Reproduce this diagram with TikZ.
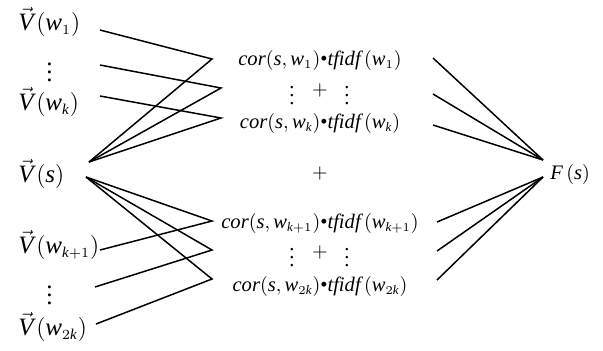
\documentclass[tikz,border=0pt]{standalone}
\usepackage{fontspec}
\setmainfont{Liberation Serif}
\usetikzlibrary{positioning}
\DeclareMathSizes{12.5}{12.5}{7.5}{6}
\DeclareMathSizes{10.3}{10.3}{6.5}{5}
\newcommand{\vecV}{\vec{\mathit{V}}\mkern2mu}
\newcommand{\wterm}[1]{$\mathit{cor}(\mathit{s},\mathit{w}_{#1})\mbox{\textbullet}\mathit{tfidf}\,(\mathit{w}_{#1})$}
\tikzset{
  vlbl/.style={anchor=west,inner sep=0pt,font=\fontsize{12.5}{14}\selectfont},
  wbox/.style={inner sep=0pt,font=\fontsize{10.3}{12}\selectfont},
  wire/.style={line width=0.75pt},
}

\begin{document}
\begin{tikzpicture}[x=0.5pt,y=-0.5pt]
\useasboundingbox (0,0) rectangle (603,350);
% left column
\node[vlbl] (vw1) at (18,22) {$\vecV(\mathit{w}_{1})$};
\node[vlbl] (vd1) at (46,66) {$\vdots$};
\node[vlbl] (vwk) at (18,102) {$\vecV(\mathit{w}_{\mathit{k}})$};
\node[vlbl] (vs) at (18,174) {$\vecV(\mathit{s})$};
\node[vlbl] (vwk1) at (18,245) {$\vecV(\mathit{w}_{\mathit{k}+1})$};
\node[vlbl] (vd2) at (46,289) {$\vdots$};
\node[vlbl] (vw2k) at (18,327) {$\vecV(\mathit{w}_{2\mathit{k}})$};
% middle column
\node[wbox] (t1) at (320,60) {\wterm{1}};
\node[wbox] (dl1) at (292,90) {$\vdots$};
\node[wbox] (p1) at (320,90) {$+$};
\node[wbox] (dr1) at (347,90) {$\vdots$};
\node[wbox] (tk) at (320,123) {\wterm{\mathit{k}}};
\node[wbox] (psum) at (320,173) {$+$};
\node[wbox] (tk1) at (320,223) {\wterm{\mathit{k}+1}};
\node[wbox] (dl2) at (292,252) {$\vdots$};
\node[wbox] (p2) at (320,252) {$+$};
\node[wbox] (dr2) at (347,252) {$\vdots$};
\node[wbox] (t2k) at (320,286) {\wterm{2\mathit{k}}};
% right
\node[wbox,anchor=west] (fs) at (550,174) {$\mathit{F}\,(\mathit{s})$};
% wire ends
\coordinate (a1) at (100,30);  \coordinate (a2) at (100,65);  \coordinate (a3) at (100,96);
\coordinate (a4) at (100,250); \coordinate (a5) at (95,287);  \coordinate (a6) at (96,324);
\coordinate (su) at (89,162);  \coordinate (sd) at (86,177);
\coordinate (j1) at (212,59);  \coordinate (j2) at (221,88);  \coordinate (j3) at (221,118);
\coordinate (j4) at (212,221); \coordinate (j5) at (212,250); \coordinate (j6) at (212,279);
\coordinate (r1) at (433,58);  \coordinate (r2) at (433,94);  \coordinate (r3) at (433,125);
\coordinate (r4) at (437,222); \coordinate (r5) at (437,251); \coordinate (r6) at (437,280);
\coordinate (fu) at (543,160); \coordinate (fd) at (543,177);
% wires
\draw[wire] (a1)--(j1)--(su); \draw[wire] (a2)--(j2)--(su); \draw[wire] (a3)--(j3)--(su);
\draw[wire] (a4)--(j4)--(sd); \draw[wire] (a5)--(j5)--(sd); \draw[wire] (a6)--(j6)--(sd);
\draw[wire] (r1)--(fu); \draw[wire] (r2)--(fu); \draw[wire] (r3)--(fu);
\draw[wire] (r4)--(fd); \draw[wire] (r5)--(fd); \draw[wire] (r6)--(fd);
\end{tikzpicture}
\end{document}
